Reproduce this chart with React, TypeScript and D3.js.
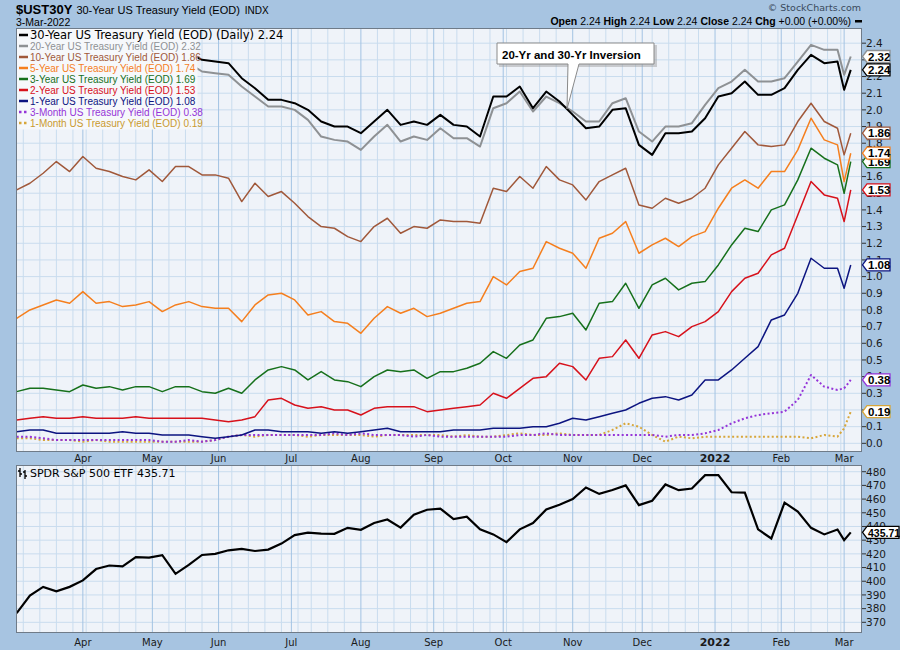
import React from 'react';
import * as d3 from 'd3';

// market holidays inside the window (no sessions)
const HOLIDAYS = ['2021-04-02', '2021-05-31', '2021-07-05', '2021-09-06', '2021-11-25', '2021-12-24', '2022-01-17', '2022-02-21'];

// every 4th session from 4-Mar-2021, plus 1-Mar-2022 and 3-Mar-2022
const SAMPLE_IDX = [...d3.range(0, 252, 4), 250, 252];

const UST30 = [2.29, 2.35, 2.44, 2.41, 2.40, 2.38, 2.34, 2.30, 2.29, 2.30, 2.33, 2.29, 2.36, 2.34, 2.30, 2.29, 2.28, 2.19, 2.13, 2.06, 2.06, 2.04, 2.00, 1.93, 1.90, 1.90, 1.86, 1.93, 2.00, 1.91, 1.93, 1.91, 1.97, 1.91, 1.90, 1.84, 2.08, 2.08, 2.14, 2.01, 2.11, 2.05, 1.97, 1.89, 1.90, 2.00, 2.01, 1.79, 1.73, 1.86, 1.86, 1.87, 1.95, 2.08, 2.10, 2.17, 2.09, 2.09, 2.13, 2.24, 2.33, 2.28, 2.29, 2.12, 2.24];
const UST20 = [2.23, 2.29, 2.38, 2.35, 2.34, 2.32, 2.28, 2.24, 2.23, 2.24, 2.26, 2.23, 2.30, 2.28, 2.23, 2.22, 2.21, 2.14, 2.08, 2.02, 2.02, 2.00, 1.94, 1.84, 1.82, 1.81, 1.76, 1.84, 1.91, 1.81, 1.84, 1.82, 1.89, 1.83, 1.83, 1.78, 2.01, 2.04, 2.11, 1.99, 2.08, 2.04, 1.99, 1.93, 1.93, 2.04, 2.07, 1.87, 1.81, 1.90, 1.90, 1.92, 2.03, 2.13, 2.17, 2.24, 2.17, 2.17, 2.19, 2.29, 2.39, 2.36, 2.36, 2.21, 2.32];
const UST10 = [1.52, 1.56, 1.62, 1.69, 1.63, 1.72, 1.65, 1.63, 1.60, 1.58, 1.64, 1.57, 1.66, 1.66, 1.61, 1.61, 1.59, 1.45, 1.56, 1.48, 1.51, 1.44, 1.36, 1.30, 1.29, 1.24, 1.21, 1.30, 1.35, 1.26, 1.30, 1.29, 1.34, 1.33, 1.33, 1.32, 1.53, 1.51, 1.60, 1.53, 1.66, 1.58, 1.55, 1.46, 1.57, 1.61, 1.65, 1.43, 1.41, 1.47, 1.44, 1.47, 1.53, 1.67, 1.77, 1.87, 1.79, 1.78, 1.79, 1.93, 2.04, 1.93, 1.89, 1.73, 1.86];
const UST5 = [0.75, 0.80, 0.83, 0.86, 0.84, 0.91, 0.84, 0.85, 0.82, 0.83, 0.85, 0.79, 0.83, 0.85, 0.82, 0.81, 0.81, 0.73, 0.83, 0.89, 0.90, 0.86, 0.77, 0.79, 0.73, 0.72, 0.66, 0.75, 0.82, 0.78, 0.81, 0.76, 0.78, 0.81, 0.84, 0.85, 1.00, 0.95, 1.03, 1.05, 1.21, 1.17, 1.14, 1.05, 1.23, 1.26, 1.33, 1.14, 1.19, 1.23, 1.18, 1.24, 1.27, 1.41, 1.53, 1.58, 1.53, 1.63, 1.63, 1.76, 1.95, 1.82, 1.79, 1.57, 1.74];
const UST3 = [0.31, 0.33, 0.33, 0.32, 0.31, 0.35, 0.33, 0.34, 0.32, 0.34, 0.34, 0.31, 0.34, 0.34, 0.31, 0.30, 0.33, 0.30, 0.38, 0.44, 0.46, 0.44, 0.38, 0.43, 0.38, 0.37, 0.34, 0.40, 0.44, 0.43, 0.44, 0.39, 0.43, 0.43, 0.45, 0.48, 0.55, 0.51, 0.59, 0.62, 0.75, 0.76, 0.78, 0.68, 0.84, 0.85, 0.96, 0.81, 0.95, 0.99, 0.92, 0.96, 0.97, 1.07, 1.19, 1.29, 1.27, 1.40, 1.43, 1.58, 1.77, 1.71, 1.67, 1.50, 1.69];
const UST2 = [0.14, 0.15, 0.16, 0.15, 0.15, 0.16, 0.15, 0.15, 0.15, 0.16, 0.15, 0.15, 0.15, 0.15, 0.15, 0.14, 0.13, 0.14, 0.16, 0.26, 0.27, 0.23, 0.21, 0.22, 0.20, 0.20, 0.17, 0.21, 0.22, 0.22, 0.22, 0.19, 0.20, 0.21, 0.22, 0.23, 0.30, 0.27, 0.33, 0.39, 0.40, 0.48, 0.46, 0.38, 0.51, 0.52, 0.62, 0.51, 0.65, 0.67, 0.64, 0.70, 0.73, 0.79, 0.91, 0.99, 1.02, 1.13, 1.17, 1.37, 1.57, 1.49, 1.47, 1.33, 1.52];
const UST1 = [0.07, 0.08, 0.08, 0.06, 0.06, 0.06, 0.06, 0.06, 0.07, 0.06, 0.06, 0.05, 0.05, 0.05, 0.04, 0.03, 0.04, 0.05, 0.08, 0.08, 0.07, 0.07, 0.07, 0.06, 0.07, 0.06, 0.07, 0.08, 0.09, 0.07, 0.07, 0.07, 0.07, 0.08, 0.08, 0.08, 0.09, 0.09, 0.09, 0.10, 0.10, 0.12, 0.15, 0.14, 0.16, 0.18, 0.20, 0.24, 0.27, 0.28, 0.26, 0.29, 0.38, 0.38, 0.44, 0.51, 0.58, 0.74, 0.77, 0.90, 1.11, 1.05, 1.05, 0.93, 1.07];
const UST3M = [0.04, 0.04, 0.03, 0.02, 0.02, 0.02, 0.02, 0.02, 0.02, 0.02, 0.02, 0.01, 0.01, 0.02, 0.01, 0.02, 0.04, 0.05, 0.05, 0.05, 0.05, 0.05, 0.05, 0.05, 0.06, 0.05, 0.06, 0.05, 0.05, 0.05, 0.04, 0.05, 0.04, 0.04, 0.04, 0.04, 0.04, 0.04, 0.05, 0.05, 0.06, 0.05, 0.05, 0.05, 0.05, 0.05, 0.05, 0.05, 0.05, 0.04, 0.05, 0.05, 0.06, 0.08, 0.12, 0.15, 0.17, 0.18, 0.19, 0.26, 0.41, 0.34, 0.32, 0.33, 0.38];
const UST1M = [0.03, 0.03, 0.02, 0.02, 0.02, 0.01, 0.02, 0.01, 0.01, 0.01, 0.01, 0.01, 0.01, 0.01, 0.01, 0.02, 0.04, 0.05, 0.04, 0.05, 0.05, 0.05, 0.04, 0.05, 0.05, 0.05, 0.05, 0.04, 0.05, 0.05, 0.05, 0.05, 0.05, 0.04, 0.05, 0.04, 0.04, 0.05, 0.06, 0.05, 0.05, 0.06, 0.05, 0.05, 0.05, 0.08, 0.12, 0.10, 0.05, 0.01, 0.04, 0.03, 0.04, 0.04, 0.04, 0.04, 0.04, 0.04, 0.04, 0.04, 0.03, 0.05, 0.04, 0.09, 0.19];

const SPY = [376.7, 389.6, 395.9, 392.6, 395.9, 400.6, 408.9, 411.5, 410.9, 417.6, 417.3, 419.1, 405.4, 411.9, 419.2, 420.0, 422.6, 423.6, 422.1, 423.1, 427.5, 433.7, 435.5, 434.8, 434.6, 439.0, 437.6, 442.5, 445.1, 439.2, 448.6, 452.2, 453.1, 445.4, 447.2, 437.9, 434.2, 428.6, 437.9, 442.5, 452.4, 455.9, 460.0, 468.5, 463.8, 466.6, 470.0, 455.6, 458.8, 470.7, 466.5, 467.7, 477.5, 477.6, 465.0, 464.7, 437.9, 431.2, 457.4, 450.9, 439.0, 434.2, 437.8, 430.0, 435.71];

const TOP_TICKS = d3.range(0, 25).map(i => i / 10);
const BOT_TICKS = d3.range(370, 490, 10);

const SERIES = [
  { label: '30-Year US Treasury Yield (EOD) (Daily)', last: '2.24', values: UST30, color: '#000000', text: '#000000', width: 2, dotted: false },
  { label: '20-Year US Treasury Yield (EOD)', last: '2.32', values: UST20, color: '#8e9194', text: '#8e9194', width: 2, dotted: false },
  { label: '10-Year US Treasury Yield (EOD)', last: '1.86', values: UST10, color: '#a0583a', text: '#a0583a', width: 1.5, dotted: false },
  { label: '5-Year US Treasury Yield (EOD)', last: '1.74', values: UST5, color: '#f57f1e', text: '#f57f1e', width: 1.5, dotted: false },
  { label: '3-Year US Treasury Yield (EOD)', last: '1.69', values: UST3, color: '#16701b', text: '#16701b', width: 1.5, dotted: false },
  { label: '2-Year US Treasury Yield (EOD)', last: '1.53', values: UST2, color: '#d7111b', text: '#d7111b', width: 1.5, dotted: false },
  { label: '1-Year US Treasury Yield (EOD)', last: '1.08', values: UST1, color: '#0c1480', text: '#0c1480', width: 1.5, dotted: false },
  { label: '3-Month US Treasury Yield (EOD)', last: '0.38', values: UST3M, color: '#9535d8', text: '#9535d8', width: 2, dotted: true },
  { label: '1-Month US Treasury Yield (EOD)', last: '0.19', values: UST1M, color: '#d7a63a', text: '#c99a30', width: 2, dotted: true },
];

const PL = 16;
const PR = 862;
const T1 = 28;
const B1 = 452;
const T2 = 465;
const B2 = 633;

const BG = '#a7c4e1';
const PLOT_BG = '#eff3f9';
const GRID = '#c9dcee';
const GRID_MONTH = '#a3c3e3';
const SANS = "'Liberation Sans', Arial, sans-serif";
const VERD = "'DejaVu Sans', Verdana, sans-serif";

function Tag({ y, text, color, w, size = 11.5 }: { y: number; text: string; color: string; w: number; size?: number }) {
  const h = 12;
  return (
    <g>
      <path
        d={`M${PR + 0.5},${y} L${PR + 5},${y - h / 2} H${PR + 5 + w} V${y + h / 2} H${PR + 5} Z`}
        fill="#ffffff"
        stroke={color}
        strokeWidth={1.3}
      />
      <text x={PR + 6} y={y + 4.2} fontFamily={SANS} fontSize={size} fontWeight="bold" fill="#000">
        {text}
      </text>
    </g>
  );
}

export default function App() {
  const fmtDay = d3.timeFormat('%Y-%m-%d');
  const days = d3.timeDay
    .range(new Date(2021, 2, 4), new Date(2022, 2, 4))
    .filter(d => d.getDay() !== 0 && d.getDay() !== 6 && !HOLIDAYS.includes(fmtDay(d)));
  const all = d3.range(days.length);
  const monthStarts = all.filter(i => i > 0 && days[i].getMonth() !== days[i - 1].getMonth());
  const weekStarts = all.filter(i => i > 0 && days[i].getDay() < days[i - 1].getDay() && !monthStarts.includes(i));

  const x = d3.scaleLinear().domain([-0.2, 255.4]).range([PL, PR]);
  const yT = d3.scaleLinear().domain([-0.052, 2.491]).range([B1, T1]);
  const yB = d3.scaleLinear().domain([362.2, 484.9]).range([B2, T2]);

  const lineT = d3.line<number>().x((_, i) => x(SAMPLE_IDX[i])).y(v => yT(v));
  const lineB = d3.line<number>().x((_, i) => x(SAMPLE_IDX[i])).y(v => yB(v));

  const monthLabel = (i: number) => (days[i].getMonth() === 0 ? d3.timeFormat('%Y')(days[i]) : d3.timeFormat('%b')(days[i]));

  const vGrid = (top: number, bottom: number) => (
    <g>
      {weekStarts.map(i => (
        <line key={'w' + i} x1={x(i)} x2={x(i)} y1={top} y2={bottom} stroke={GRID} strokeWidth={1} />
      ))}
      {monthStarts.map(i => (
        <line key={'m' + i} x1={x(i)} x2={x(i)} y1={top} y2={bottom} stroke={GRID_MONTH} strokeWidth={1} />
      ))}
    </g>
  );

  const monthAxis = (yText: number) =>
    monthStarts.map(i => (
      <text
        key={'ml' + i}
        x={x(i)}
        y={yText}
        textAnchor="middle"
        fontFamily={VERD}
        fontSize={days[i].getMonth() === 0 ? 11 : 10}
        fontWeight={days[i].getMonth() === 0 ? 'bold' : 'normal'}
        fill="#1a1a1a"
      >
        {monthLabel(i)}
      </text>
    ));

  const drawOrder = [...SERIES].reverse();
  const tagOrder = [...SERIES].reverse();

  return (
    <svg width={900} height={650} style={{ display: 'block', position: 'absolute', left: 0, top: 0 }}>
      <defs>
        <clipPath id="clipTop">
          <rect x={PL} y={T1} width={PR - PL} height={B1 - T1} />
        </clipPath>
        <clipPath id="clipBot">
          <rect x={PL} y={T2} width={PR - PL} height={B2 - T2} />
        </clipPath>
      </defs>
      <rect x={0} y={0} width={900} height={650} fill={BG} />

      {/* header */}
      <text x={16} y={14} fontFamily={SANS} fill="#000">
        <tspan fontSize={13} fontWeight="bold">$UST30Y</tspan>
        <tspan fontSize={11} dx={4}>30-Year US Treasury Yield (EOD)</tspan>
        <tspan fontSize={10} dx={5}>INDX</tspan>
      </text>
      <text x={16} y={25.5} fontFamily={SANS} fontSize={10.5} fill="#000">3-Mar-2022</text>
      <text x={861} y={11} textAnchor="end" fontFamily={VERD} fontSize={9.5} fill="#3a4a5c">© StockCharts.com</text>
      <text x={851} y={24.5} textAnchor="end" fontFamily={SANS} fontSize={10.5} fill="#000">
        <tspan fontWeight="bold">Open</tspan>
        <tspan> 2.24 </tspan>
        <tspan fontWeight="bold">High</tspan>
        <tspan> 2.24 </tspan>
        <tspan fontWeight="bold">Low</tspan>
        <tspan> 2.24 </tspan>
        <tspan fontWeight="bold">Close</tspan>
        <tspan> 2.24 </tspan>
        <tspan fontWeight="bold">Chg</tspan>
        <tspan> +0.00 (+0.00%)</tspan>
      </text>
      <rect x={855} y={20} width={7} height={2.5} fill="#000" />

      {/* top panel */}
      <rect x={PL} y={T1} width={PR - PL} height={B1 - T1} fill={PLOT_BG} />
      {TOP_TICKS.map(t => (
        <line key={'h' + t} x1={PL} x2={PR} y1={yT(t)} y2={yT(t)} stroke={GRID} strokeWidth={1} />
      ))}
      {vGrid(T1, B1)}
      <g clipPath="url(#clipTop)" fill="none" strokeLinejoin="round">
        {drawOrder.map(s => (
          <path
            key={s.label}
            d={lineT(s.values) || ''}
            stroke={s.color}
            strokeWidth={s.width}
            strokeDasharray={s.dotted ? '2,2.4' : undefined}
          />
        ))}
      </g>

      {/* legend */}
      <rect x={PL + 0.5} y={T1 + 0.5} width={181} height={101} fill="#f6f8fb" />
      {SERIES.map((s, i) => {
        const cy = 35 + i * 11;
        return (
          <g key={'lg' + i}>
            <line
              x1={19}
              x2={28}
              y1={cy}
              y2={cy}
              stroke={s.color}
              strokeWidth={2.5}
              strokeDasharray={s.dotted ? '2.5,2.5' : undefined}
            />
            <text
              x={30}
              y={cy + 3.8}
              fontFamily={i === 0 ? VERD : SANS}
              fontSize={i === 0 ? 11.5 : 10}
              fill={s.text}
            >
              {`${s.label} ${s.last}`}
            </text>
          </g>
        );
      })}

      {/* annotation */}
      <g>
        <rect x={499} y={45} width={158} height={22} fill="#9a9a9a" opacity={0.45} />
        <path d="M497,43 H654 V64 H579 L567,109 L568,64 H497 Z" fill="#ffffff" stroke="#8a8a8a" strokeWidth={1} />
        <text x={502} y={58.5} fontFamily={SANS} fontSize={11.5} fontWeight="bold" fill="#000">
          20-Yr and 30-Yr Inversion
        </text>
      </g>

      <rect x={PL + 0.5} y={T1 + 0.5} width={PR - PL - 1} height={B1 - T1 - 1} fill="none" stroke="#6f7b88" strokeWidth={1} />

      {/* right axis top */}
      {TOP_TICKS.map(t => (
        <g key={'yt' + t}>
          <line x1={PR} x2={PR + 4} y1={yT(t)} y2={yT(t)} stroke="#333" strokeWidth={1} />
          <text x={PR + 4} y={yT(t) + 3.8} fontFamily={VERD} fontSize={10.5} fill="#1a1a1a">
            {d3.format('.1f')(t)}
          </text>
        </g>
      ))}
      {tagOrder.map(s => (
        <Tag key={'tag' + s.label} y={yT(s.values[s.values.length - 1])} text={s.last} color={s.color} w={23} />
      ))}

      {monthAxis(461.5)}

      {/* lower panel */}
      <rect x={PL} y={T2} width={PR - PL} height={B2 - T2} fill={PLOT_BG} />
      {BOT_TICKS.map(t => (
        <line key={'hb' + t} x1={PL} x2={PR} y1={yB(t)} y2={yB(t)} stroke={GRID} strokeWidth={1} />
      ))}
      {vGrid(T2, B2)}
      <g clipPath="url(#clipBot)">
        <path d={lineB(SPY) || ''} fill="none" stroke="#000" strokeWidth={2.2} strokeLinejoin="miter" />
      </g>
      <g stroke="#000" strokeWidth={1.3}>
        <line x1={20} x2={20} y1={468} y2={477} />
        <line x1={18} x2={20} y1={471} y2={471} />
        <line x1={20} x2={22} y1={474} y2={474} />
        <line x1={25} x2={25} y1={470} y2={479} />
        <line x1={23} x2={25} y1={472} y2={472} />
        <line x1={25} x2={27} y1={476} y2={476} />
      </g>
      <text x={30} y={476.5} fontFamily={VERD} fontSize={11} fill="#000">SPDR S&amp;P 500 ETF 435.71</text>
      <rect x={PL + 0.5} y={T2 + 0.5} width={PR - PL - 1} height={B2 - T2 - 1} fill="none" stroke="#6f7b88" strokeWidth={1} />

      {BOT_TICKS.map(t => (
        <g key={'yb' + t}>
          <line x1={PR} x2={PR + 4} y1={yB(t)} y2={yB(t)} stroke="#333" strokeWidth={1} />
          <text x={PR + 4} y={yB(t) + 3.8} fontFamily={VERD} fontSize={10.5} fill="#1a1a1a">
            {t}
          </text>
        </g>
      ))}
      <Tag y={yB(SPY[SPY.length - 1])} text="435.71" color="#000" w={32} size={10.5} />

      {monthAxis(645.5)}
    </svg>
  );
}
